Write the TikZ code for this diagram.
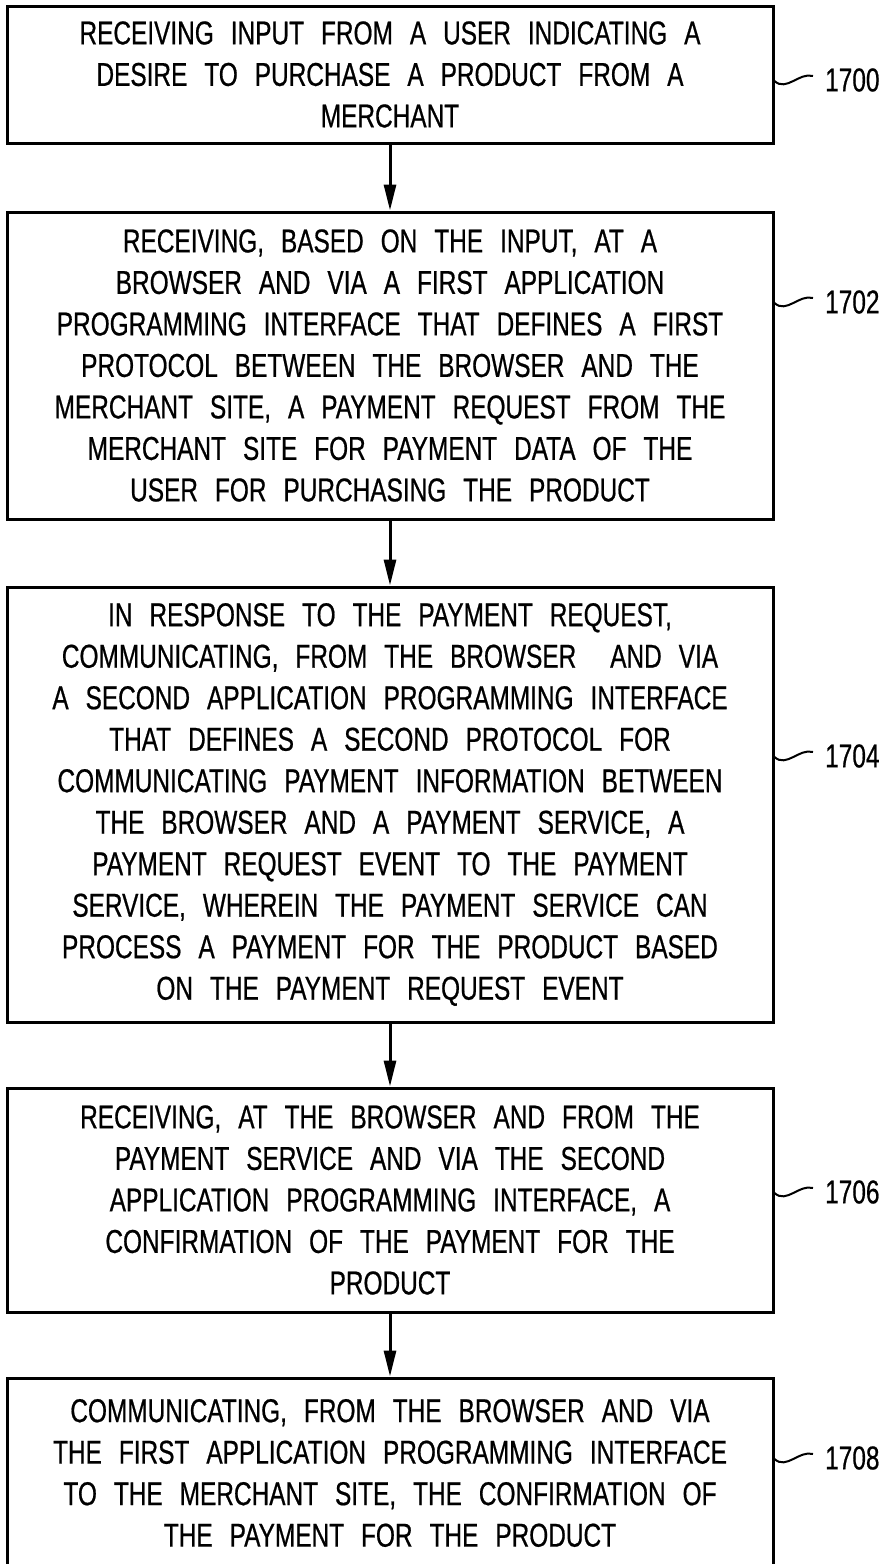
\documentclass[tikz,border=0pt]{standalone}
\usepackage{fontspec}
\setmainfont{Liberation Sans}[FakeStretch=0.74,WordSpace=2.5,FakeBold=0.6]
\usetikzlibrary{arrows.meta,calc}
\begin{document}
\begin{tikzpicture}[x=1pt,y=-1pt,
  stepbox/.style={draw,line width=3pt,minimum width=766pt,inner sep=0pt,
    align=center,font=\fontsize{33}{41.5}\selectfont},
  flow/.style={line width=3pt,-{Triangle[length=26pt,width=12pt]}},
  reflabel/.style={anchor=west,inner sep=0pt,font=\fontsize{33}{36}\selectfont},
  squig/.style={line width=2pt}]
\useasboundingbox (0,0) rectangle (894,1564);
\node[stepbox,minimum height=137pt] (b1) at (390,74.5) {RECEIVING INPUT FROM A USER INDICATING A\\DESIRE TO PURCHASE A PRODUCT FROM A\\MERCHANT};
\node[stepbox,minimum height=307pt] (b2) at (390,365.5) {RECEIVING, BASED ON THE INPUT, AT A\\BROWSER AND VIA A FIRST APPLICATION\\PROGRAMMING INTERFACE THAT DEFINES A FIRST\\PROTOCOL BETWEEN THE BROWSER AND THE\\MERCHANT SITE, A PAYMENT REQUEST FROM THE\\MERCHANT SITE FOR PAYMENT DATA OF THE\\USER FOR PURCHASING THE PRODUCT};
\node[stepbox,minimum height=435pt] (b3) at (390,804.5) {IN RESPONSE TO THE PAYMENT REQUEST,\\COMMUNICATING, FROM THE BROWSER \ AND VIA\\A SECOND APPLICATION PROGRAMMING INTERFACE\\THAT DEFINES A SECOND PROTOCOL FOR\\COMMUNICATING PAYMENT INFORMATION BETWEEN\\THE BROWSER AND A PAYMENT SERVICE, A\\PAYMENT REQUEST EVENT TO THE PAYMENT\\SERVICE, WHEREIN THE PAYMENT SERVICE CAN\\PROCESS A PAYMENT FOR THE PRODUCT BASED\\ON THE PAYMENT REQUEST EVENT};
\node[stepbox,minimum height=224pt] (b4) at (390,1200) {RECEIVING, AT THE BROWSER AND FROM THE\\PAYMENT SERVICE AND VIA THE SECOND\\APPLICATION PROGRAMMING INTERFACE, A\\CONFIRMATION OF THE PAYMENT FOR THE\\PRODUCT};
\node[stepbox,minimum height=190pt] (b5) at (390,1473) {COMMUNICATING, FROM THE BROWSER AND VIA\\THE FIRST APPLICATION PROGRAMMING INTERFACE\\TO THE MERCHANT SITE, THE CONFIRMATION OF\\THE PAYMENT FOR THE PRODUCT};
\draw[flow] (b1.south) -- (b2.north);
\draw[flow] (b2.south) -- (b3.north);
\draw[flow] (b3.south) -- (b4.north);
\draw[flow] (b4.south) -- (b5.north);
\foreach \b/\t/\y in {b1/1700/80,b2/1702/302,b3/1704/756,b4/1706/1192,b5/1708/1458}{
  \node[reflabel] (L\t) at (825,\y) {\t};
  \draw[squig] (\b.east |- L\t.west) ++(0,1) .. controls +(12,11) and +(-14,-4) .. ($(L\t.west)+(-12,-4)$);
}
\end{tikzpicture}
\end{document}
